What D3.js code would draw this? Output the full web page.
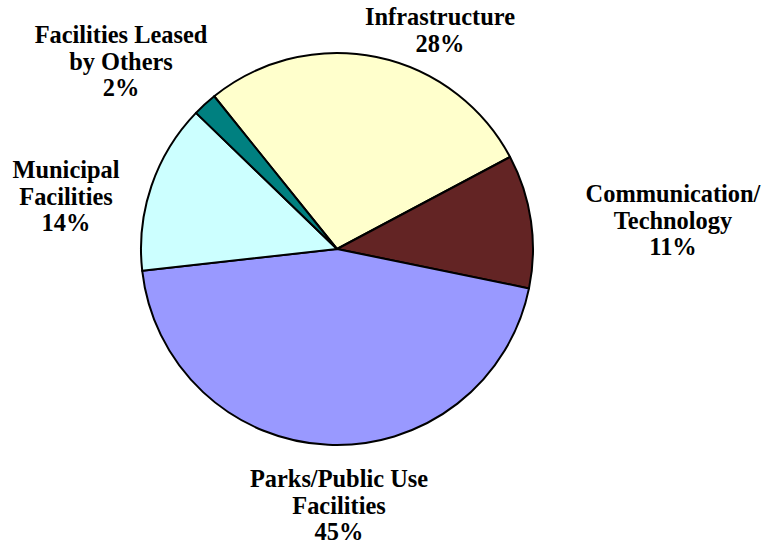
<!DOCTYPE html>
<html>
<head>
<meta charset="utf-8">
<script src="https://cdn.jsdelivr.net/npm/d3@7"></script>
<style>
  html, body { margin: 0; padding: 0; background: #ffffff; }
  svg { display: block; }
  .lbl { font-family: "Liberation Serif", "Times New Roman", serif; font-weight: bold; font-size: 24.4px; fill: #000; }
</style>
</head>
<body>
<svg id="chart" width="777" height="548"></svg>
<script>
// Capital programme share by category (percent)
const categories = ["Infrastructure", "Communication/ Technology", "Parks/Public Use Facilities", "Municipal Facilities", "Facilities Leased by Others"];
const shares = [28, 11, 45, 14, 2];
const colors = ["#FFFFCC", "#632424", "#9999FF", "#CCFFFF", "#008080"];

// Label line breaks and anchor points (centre x, first baseline y)
const labelLines = [
  ["Infrastructure"],
  ["Communication/", "Technology"],
  ["Parks/Public Use", "Facilities"],
  ["Municipal", "Facilities"],
  ["Facilities Leased", "by Others"]
];
const labelAnchors = [[440, 25], [673, 202], [339, 487], [66, 178], [121, 43]];

const width = 777, height = 548;
const cx = 337, cy = 249, radius = 196;
const lineH = 26.5;

const svg = d3.select("#chart");

const startAngle = -38.8 * Math.PI / 180;
const pie = d3.pie()
  .sort(null)
  .value(d => d)
  .startAngle(startAngle)
  .endAngle(startAngle + 2 * Math.PI);

const arc = d3.arc().innerRadius(0).outerRadius(radius);

const arcs = pie(shares);

const g = svg.append("g").attr("transform", `translate(${cx},${cy})`);
g.selectAll("path")
  .data(arcs)
  .join("path")
  .attr("d", arc)
  .attr("fill", (d, i) => colors[i])
  .attr("stroke", "#000")
  .attr("stroke-width", 2)
  .attr("stroke-linejoin", "round");

const fmt = d3.format(".0%");
const total = d3.sum(shares);

categories.forEach((c, i) => {
  const lines = labelLines[i].concat([fmt(shares[i] / total)]);
  const t = svg.append("text")
    .attr("class", "lbl")
    .attr("text-anchor", "middle")
    .attr("x", labelAnchors[i][0])
    .attr("y", labelAnchors[i][1]);
  lines.forEach((s, k) => {
    t.append("tspan")
      .attr("x", labelAnchors[i][0])
      .attr("y", labelAnchors[i][1] + k * lineH)
      .text(s);
  });
});
</script>
</body>
</html>
